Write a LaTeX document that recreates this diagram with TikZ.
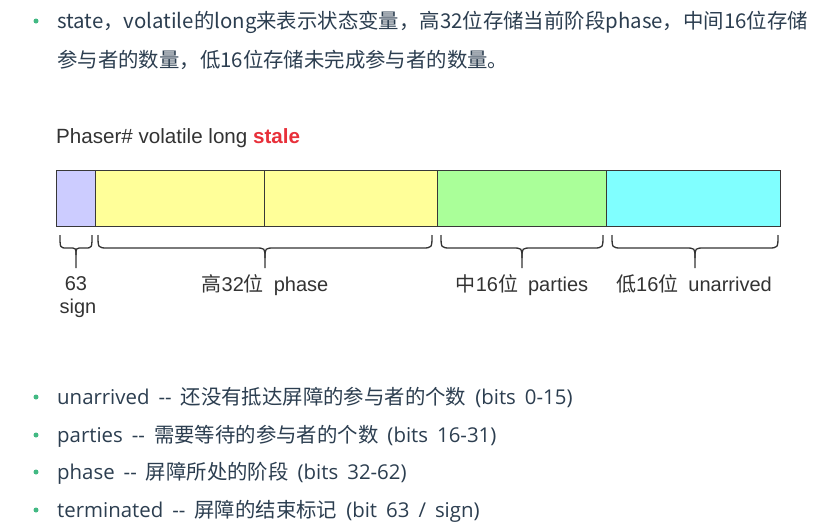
\documentclass[tikz,border=0pt]{standalone}
\usepackage{fontspec}
\newfontfamily\cjk{Noto Sans CJK SC}
\newfontfamily\lat{Open Sans}[WordSpace=1.7]
\newfontfamily\dia{Liberation Sans}
\definecolor{txt}{HTML}{2C3E50}
\definecolor{dtxt}{HTML}{333333}
\definecolor{bul}{HTML}{42B983}
\definecolor{lav}{HTML}{CCCCFF}
\definecolor{yel}{HTML}{FFFF99}
\definecolor{grn}{HTML}{AAFF99}
\definecolor{cya}{HTML}{80FFFF}
\definecolor{redt}{HTML}{E8303A}
\newcommand\bitbrace[3]{%
  \draw[brc] (#1,235) .. controls (#1,248) .. (#1+#3,248)
    -- ({(#1+#2)/2-#3},248) .. controls ({(#1+#2)/2},248) .. ({(#1+#2)/2},248+#3)
    -- ({(#1+#2)/2},268);
  \draw[brc] ({(#1+#2)/2},248+#3) .. controls ({(#1+#2)/2},248) .. ({(#1+#2)/2+#3},248)
    -- (#2-#3,248) .. controls (#2,248) .. (#2,235);}
\begin{document}
\begin{tikzpicture}[x=1pt,y=-1pt,
  bodytext/.style={anchor=base west,inner sep=0,text=txt,font=\cjk\fontsize{20.4}{20.4}\selectfont},
  dlabel/.style={anchor=base,inner sep=0,text=dtxt,font=\dia\fontsize{20}{20}\selectfont},
  bdot/.style={circle,fill=bul,inner sep=0,minimum size=5pt},
  seg/.style={draw=black!78,line width=1.2pt,anchor=north west,minimum height=56pt,inner sep=0},
  brc/.style={draw=dtxt,line width=1.3pt}]
\useasboundingbox[fill=white] (0,0) rectangle (833,530);

% top paragraph
\node[bdot] (b0) at (36,21) {};
\node[bodytext] (t1) at (57,28) {state，volatile的long来表示状态变量，高32位存储当前阶段phase，中间16位存储};
\node[bodytext] (t2) at (57,67) {参与者的数量，低16位存储未完成参与者的数量。};

% title
\node[anchor=base west,inner sep=0,text=dtxt,font=\dia\fontsize{20.6}{20.6}\selectfont] (title) at (56,143)
  {Phaser\# volatile long \textcolor{redt}{\bfseries stale}};

% bar
\node[seg,fill=lav,minimum width=39pt] (s1) at (56,170) {};
\node[seg,fill=yel,minimum width=169pt] (s2) at (95,170) {};
\node[seg,fill=yel,minimum width=173pt] (s3) at (264,170) {};
\node[seg,fill=grn,minimum width=169pt] (s4) at (437,170) {};
\node[seg,fill=cya,minimum width=174pt] (s5) at (606,170) {};

% braces
\bitbrace{60}{92}{7}
\bitbrace{98}{432}{10}
\bitbrace{441}{603}{10}
\bitbrace{612}{778}{10}

% labels
\node[dlabel] (l63) at (76,290) {63};
\node[dlabel] (lsign) at (78,313) {sign};
\node[dlabel] (lphase) at (265,291) {{\cjk 高}32{\cjk 位}\hspace{10pt}phase};
\node[dlabel] (lparties) at (522,291) {{\cjk 中}16{\cjk 位}\hspace{10pt}parties};
\node[dlabel] (lunarr) at (694,291) {{\cjk 低}16{\cjk 位}\hspace{10pt}unarrived};

% bottom bullets
\node[bdot] (b1) at (36,397) {};
\node[bodytext] (u1) at (57,404) {{\lat unarrived -- }还没有抵达屏障的参与者的个数{\lat\ (bits 0-15)}};
\node[bdot] (b2) at (36,435) {};
\node[bodytext] (u2) at (57,442) {{\lat parties -- }需要等待的参与者的个数{\lat\ (bits 16-31)}};
\node[bdot] (b3) at (36,472) {};
\node[bodytext] (u3) at (57,479) {{\lat phase -- }屏障所处的阶段{\lat\ (bits 32-62)}};
\node[bdot] (b4) at (36,510) {};
\node[bodytext] (u4) at (57,517) {{\lat terminated -- }屏障的结束标记{\lat\ (bit 63 / sign)}};
\end{tikzpicture}
\end{document}
